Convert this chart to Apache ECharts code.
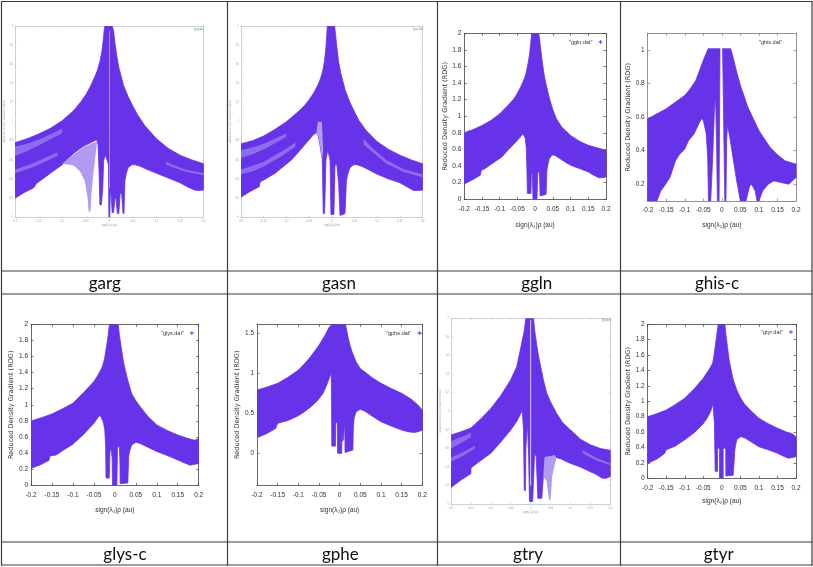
<!DOCTYPE html>
<html><head><meta charset="utf-8">
<style>html,body{margin:0;padding:0;background:#fff}#c{width:813px;height:567px}</style>
<script src="https://cdn.jsdelivr.net/npm/echarts@6/dist/echarts.min.js"></script></head>
<body><div id="c"></div>
<script>
const xTicks=[-0.2,-0.15,-0.1,-0.05,0,0.05,0.1,0.15,0.2];
const yTicks2=[0,0.2,0.4,0.6,0.8,1,1.2,1.4,1.6,1.8,2];
const yTicksHis=[0.2,0.4,0.6,0.8,1];
const yTicksPhe=[0,0.5,1,1.5];

const gargMain=[[-.2,.78],[-.175,.82],[-.15,.87],[-.125,.93],[-.1,1.01],[-.075,1.12],[-.06,1.21],[-.05,1.28],[-.04,1.37],[-.03,1.48],[-.025,1.54],[-.02,1.63],[-.016,1.73],[-.013,1.85],[-.011,1.95],[-.0095,2],[.006,2],[.009,1.95],[.012,1.82],[.016,1.68],[.02,1.57],[.03,1.38],[.04,1.26],[.05,1.16],[.06,1.07],[.075,.96],[.1,.82],[.125,.72],[.15,.65],[.175,.6],[.2,.56],[.2,.285],[.19,.28],[.18,.285],[.165,.32],[.15,.36],[.125,.41],[.1,.46],[.08,.5],[.065,.535],[.055,.55],[.048,.55],[.04,.52],[.036,.46],[.033,.38],[.031,.04],[.029,.04],[.026,.25],[.023,.25],[.02,.04],[.017,.04],[.014,.2],[.012,.2],[.009,.05],[.006,.05],[.004,.2],[.002,.3],[.001,0],[-.001,0],[-.002,.55],[-.008,.65],[-.012,.6],[-.014,.3],[-.017,.13],[-.02,.13],[-.022,.5],[-.024,.76],[-.027,.81],[-.04,.78],[-.056,.74],[-.075,.67],[-.091,.6],[-.1,.55],[-.125,.46],[-.15,.37],[-.155,.35],[-.16,.31],[-.18,.26],[-.2,.2]];
const gargLight=[[[-.1,.56],[-.085,.55],[-.075,.54],[-.062,.48],[-.052,.38],[-.046,.2],[-.044,.06],[-.04,.06],[-.038,.25],[-.034,.45],[-.026,.79],[-.04,.77],[-.056,.73],[-.09,.6]]];
const gargStreak=[[[-.2,.74],[-.175,.77],[-.15,.81],[-.12,.88],[-.1,.93],[-.1,.88],[-.12,.83],[-.15,.75],[-.175,.69],[-.2,.64]],[[-.2,.5],[-.175,.54],[-.15,.59],[-.11,.68],[-.11,.64],[-.15,.55],[-.175,.5],[-.2,.46]],[[.12,.58],[.16,.5],[.2,.46],[.2,.44],[.16,.48],[.12,.55]]];
const gargHair=[[-.0006,1.95],[.0006,1.95],[.0006,.3],[-.0006,.3]];

const gasnMain=[[-.2,.77],[-.175,.8],[-.15,.85],[-.125,.92],[-.1,1],[-.075,1.1],[-.06,1.17],[-.05,1.23],[-.04,1.3],[-.03,1.39],[-.025,1.45],[-.02,1.53],[-.016,1.64],[-.013,1.78],[-.011,1.92],[-.01,2],[.006,2],[.008,1.92],[.011,1.78],[.015,1.62],[.02,1.5],[.03,1.32],[.04,1.2],[.05,1.1],[.06,1.01],[.075,.91],[.1,.79],[.125,.71],[.15,.65],[.175,.6],[.2,.56],[.2,.285],[.19,.28],[.18,.28],[.165,.32],[.15,.36],[.125,.4],[.1,.45],[.08,.5],[.065,.535],[.055,.55],[.048,.55],[.04,.52],[.035,.45],[.032,.38],[.029,.04],[.018,.02],[.015,.35],[.011,.55],[.007,.55],[.0045,.03],[-.002,.03],[-.004,.6],[-.009,.7],[-.013,.6],[-.016,.04],[-.019,.04],[-.021,.6],[-.026,.75],[-.03,.85],[-.034,.885],[-.04,.865],[-.052,.8],[-.07,.7],[-.089,.6],[-.125,.46],[-.15,.39],[-.158,.37],[-.16,.32],[-.18,.27],[-.2,.21]];
const gasnLight=[[[-.034,.885],[-.031,1],[-.022,1],[-.019,.7],[-.021,.6],[-.026,.75],[-.03,.85]]];
const gasnStreak=[[[-.2,.7],[-.175,.73],[-.15,.77],[-.1,.88],[-.1,.84],[-.15,.71],[-.175,.66],[-.2,.62]],[[-.2,.5],[-.175,.54],[-.15,.58],[-.11,.69],[-.08,.78],[-.08,.74],[-.11,.64],[-.15,.53],[-.175,.48],[-.2,.45]],[[.07,.82],[.09,.72],[.12,.6],[.16,.5],[.2,.45],[.2,.42],[.16,.47],[.12,.56],[.09,.68],[.07,.76]]];

const gglnMain=[[-.2,.8],[-.19,.82],[-.175,.84],[-.15,.89],[-.125,.95],[-.1,1.03],[-.075,1.14],[-.06,1.21],[-.05,1.28],[-.04,1.36],[-.03,1.46],[-.025,1.53],[-.02,1.64],[-.016,1.74],[-.013,1.86],[-.011,1.95],[-.01,2],[.01,2],[.012,1.95],[.015,1.84],[.02,1.66],[.025,1.51],[.03,1.4],[.04,1.22],[.05,1.08],[.06,.97],[.075,.87],[.1,.77],[.125,.7],[.15,.65],[.175,.62],[.2,.59],[.2,.27],[.19,.26],[.18,.26],[.165,.29],[.15,.33],[.125,.37],[.1,.41],[.08,.46],[.065,.505],[.055,.53],[.048,.535],[.04,.49],[.036,.42],[.033,.34],[.031,.06],[.014,.04],[.012,.33],[.0075,.33],[.005,0],[-.006,0],[-.008,.31],[-.0105,.31],[-.012,.07],[-.022,.07],[-.023,.31],[-.025,.62],[-.028,.74],[-.035,.79],[-.04,.76],[-.05,.71],[-.075,.6],[-.094,.51],[-.125,.42],[-.141,.37],[-.152,.35],[-.155,.29],[-.175,.24],[-.2,.185]];

const ghisMain=[[-.2,.59],[-.175,.62],[-.15,.65],[-.125,.69],[-.1,.73],[-.085,.77],[-.07,.82],[-.06,.88],[-.05,.94],[-.037,1.008],[-.005,1.008],[-.0075,.1],[-.012,.1],[-.014,.4],[-.016,.64],[-.018,.72],[-.02,.64],[-.024,.4],[-.03,.1],[-.036,.1],[-.038,.35],[-.042,.5],[-.047,.55],[-.05,.58],[-.055,.59],[-.06,.57],[-.075,.5],[-.09,.46],[-.1,.41],[-.115,.376],[-.125,.34],[-.14,.24],[-.155,.19],[-.165,.16],[-.175,.1],[-.2,.1]];
const ghisRight=[[.002,1.008],[.024,1.008],[.03,.96],[.04,.87],[.05,.79],[.07,.66],[.085,.59],[.1,.52],[.115,.47],[.13,.42],[.15,.376],[.17,.34],[.185,.33],[.2,.32],[.2,.24],[.18,.2],[.16,.21],[.14,.22],[.125,.2],[.11,.16],[.1,.1],[.095,.1],[.09,.16],[.08,.2],[.075,.19],[.065,.1],[.05,.1],[.04,.22],[.03,.36],[.02,.5],[.015,.55],[.013,.46],[.011,.1],[.008,.1]];

const glysMain=[[-.2,.8],[-.175,.84],[-.15,.886],[-.125,.95],[-.1,1.02],[-.075,1.15],[-.05,1.29],[-.04,1.37],[-.03,1.47],[-.025,1.56],[-.02,1.72],[-.016,1.86],[-.013,2],[.008,2],[.011,1.86],[.015,1.72],[.02,1.55],[.025,1.43],[.03,1.32],[.04,1.14],[.05,1.05],[.06,.98],[.08,.85],[.1,.75],[.125,.68],[.15,.625],[.175,.58],[.19,.56],[.2,.58],[.2,.27],[.19,.26],[.18,.25],[.165,.28],[.15,.315],[.125,.37],[.1,.42],[.08,.47],[.06,.52],[.05,.534],[.04,.5],[.035,.42],[.033,.36],[.031,.03],[.0127,.02],[.012,.31],[.0105,.48],[.0065,.48],[.0048,0],[-.0056,0],[-.0065,.35],[-.009,.44],[-.0115,.44],[-.0135,.09],[-.021,.09],[-.022,.48],[-.024,.69],[-.028,.79],[-.035,.87],[-.04,.845],[-.05,.77],[-.075,.63],[-.1,.51],[-.125,.43],[-.14,.377],[-.155,.364],[-.157,.31],[-.175,.26],[-.2,.21]];

const gpheMain=[[-.2,.79],[-.175,.83],[-.15,.875],[-.125,.95],[-.1,1.04],[-.085,1.12],[-.07,1.21],[-.05,1.35],[-.035,1.48],[-.025,1.58],[-.018,1.6125],[.014,1.6125],[.017,1.54],[.02,1.46],[.025,1.35],[.03,1.27],[.04,1.14],[.05,1.06],[.065,1],[.08,.94],[.1,.875],[.125,.81],[.15,.75],[.175,.67],[.19,.6],[.2,.54],[.2,.29],[.19,.27],[.18,.26],[.165,.27],[.15,.29],[.125,.34],[.1,.395],[.08,.46],[.06,.53],[.05,.55],[.04,.52],[.035,.44],[.033,.3],[.032,.04],[.013,.01],[.0125,.375],[.011,.29],[.009,.17],[.007,.15],[.0055,.29],[.005,0],[-.005,0],[-.0055,.375],[-.0095,.39],[-.01,.09],[-.019,.09],[-.0195,.58],[-.0205,1],[-.025,.94],[-.03,.87],[-.04,.75],[-.055,.65],[-.07,.58],[-.085,.52],[-.1,.47],[-.125,.41],[-.15,.375],[-.155,.31],[-.175,.25],[-.2,.195]];

const gtryMain=[[-.2,.745],[-.175,.78],[-.15,.82],[-.125,.92],[-.1,1.03],[-.075,1.17],[-.05,1.34],[-.035,1.48],[-.025,1.68],[-.016,1.87],[-.012,2],[.007,2],[.011,1.84],[.015,1.72],[.02,1.59],[.032,1.34],[.04,1.2],[.05,1.1],[.065,.98],[.08,.88],[.1,.8],[.125,.7],[.15,.64],[.175,.6],[.2,.58],[.2,.3],[.19,.28],[.18,.28],[.165,.32],[.15,.35],[.125,.4],[.1,.44],[.075,.49],[.05,.52],[.035,.51],[.032,.3],[.028,.065],[.018,.065],[.014,.51],[.01,.55],[.005,.03],[-.003,.03],[-.005,.51],[-.008,.87],[-.012,.6],[-.013,.15],[-.016,.15],[-.018,.8],[-.021,1.01],[-.028,.95],[-.035,.89],[-.05,.8],[-.075,.67],[-.1,.55],[-.135,.44],[-.15,.39],[-.15,.33],[-.175,.26],[-.2,.18]];
const gtryLight=[[[.035,.5],[.05,.52],[.06,.53],[.065,.5],[.06,.42],[.054,.3],[.05,.05],[.046,.05],[.04,.25],[.032,.3]]];
const gtryStreak=[[[-.2,.68],[-.175,.72],[-.15,.77],[-.15,.72],[-.175,.66],[-.2,.6]],[[-.2,.5],[-.17,.56],[-.14,.63],[-.14,.6],[-.17,.52],[-.2,.46]],[[.13,.58],[.165,.5],[.2,.44],[.2,.42],[.165,.47],[.13,.55]]];
const gtryHair=[[-.0012,1.98],[.0012,1.98],[.0012,.2],[-.0012,.2]];

const gtyrMain=[[-.2,.8],[-.175,.84],[-.15,.887],[-.125,.96],[-.1,1.04],[-.075,1.16],[-.05,1.3],[-.035,1.41],[-.025,1.49],[-.022,1.57],[-.018,1.71],[-.014,1.85],[-.01,2],[.008,2],[.011,1.87],[.015,1.71],[.02,1.53],[.025,1.41],[.03,1.29],[.04,1.15],[.05,1.05],[.06,.97],[.08,.87],[.1,.78],[.125,.71],[.15,.65],[.175,.6],[.19,.58],[.2,.54],[.2,.28],[.19,.27],[.18,.26],[.165,.29],[.15,.325],[.125,.37],[.1,.41],[.08,.47],[.06,.53],[.05,.54],[.04,.5],[.035,.37],[.0306,.04],[.0108,.03],[.0105,.39],[.0075,.39],[.0036,.39],[.0036,0],[-.0063,0],[-.0063,.37],[-.007,.39],[-.0115,.39],[-.0117,.09],[-.018,.09],[-.02,.71],[-.024,.97],[-.03,.87],[-.04,.78],[-.05,.71],[-.075,.59],[-.1,.5],[-.125,.42],[-.15,.37],[-.155,.32],[-.175,.25],[-.2,.195]];

const PURPLE='#6633E8', LIGHT='#B09AF2', STREAK='#8D6CEE', HAIR='#DDD2FA';
const labelFont='"Liberation Sans",sans-serif';

const panels=[
 {label:'garg',cx:104.7,ly:284,box:[15,203.7,26,217.3],y:[0,2],ticks:yTicks2,polys:[gargMain],light:gargLight,streak:gargStreak,hair:gargHair,tiny:true,leg:'"garg.dat"',legPos:[193,27.5]},
 {label:'gasn',cx:339,ly:284,box:[241,422.7,26,217.3],y:[0,2],ticks:yTicks2,polys:[gasnMain],light:gasnLight,streak:gasnStreak,tiny:true,leg:'"gasn.dat"',legPos:[412,27.5]},
 {label:'ggln',cx:536.7,ly:284,box:[464.3,606,33.3,199.3],y:[0,2],ticks:yTicks2,polys:[gglnMain],leg:'"ggln.dat"',legPos:[569,39],yGap:8,xGap:22.3},
 {label:'ghis-c',cx:717,ly:284,box:[647.7,796,33.3,201],y:[0.1,1.1],ticks:yTicksHis,polys:[ghisMain,ghisRight],leg:'"ghis.dat"',legPos:[759,39],noMark:true,yGap:9,xGap:20.6,grey:true},
 {label:'glys-c',cx:125,ly:555,box:[31,198.7,324.3,485.3],y:[0,2],ticks:yTicks2,polys:[glysMain],leg:'"glys.dat"',legPos:[161,330],yGap:11,xGap:21},
 {label:'gphe',cx:340.3,ly:555,box:[257,422.3,324.3,485.3],y:[-0.4,1.6125],ticks:yTicksPhe,polys:[gpheMain],leg:'"gphe.dat"',legPos:[386,330],yGap:11,xGap:21},
 {label:'gtry',cx:528,ly:555,box:[451,610.3,318.3,504.3],y:[0,2],ticks:yTicks2,polys:[gtryMain],light:gtryLight,streak:gtryStreak,hair:gtryHair,tiny:true,leg:'"gtry.dat"',legPos:[601,318.5]},
 {label:'gtyr',cx:718.7,ly:555,box:[647.7,796,324.3,478.3],y:[0,2],ticks:yTicks2,polys:[gtyrMain],leg:'"gtyr.dat"',legPos:[761,329],yGap:9,xGap:19.7}
];
const W=813,H=567;
const grid=[],xAxis=[],yAxis=[],series=[],legend=[],title=[];

function polySeries(poly,i,color,stroke,name){
  return {type:'custom',name:name,coordinateSystem:'cartesian2d',xAxisIndex:i*2,yAxisIndex:i*2,
    clip:true,silent:true,data:poly,encode:{x:0,y:1},itemStyle:{color:color},
    renderItem:function(params,api){
      if(params.dataIndex!==0) return null;
      return {type:'polygon',shape:{points:poly.map(function(p){return api.coord(p);})},
        style:{fill:color,stroke:stroke?color:null,lineWidth:stroke?0.8:0}};
    }};
}
panels.forEach(function(p,i){
  const b=p.box;
  grid.push({left:b[0],top:b[2],width:b[1]-b[0],height:b[3]-b[2],containLabel:false});
  const axisColor=p.tiny?'#B7C9CE':(p.grey?'#777777':'#444444');
  const tickLen=p.tiny?1.5:2.5;
  const lblColor=p.tiny?'#8FA3A8':'#333333';
  const lblSize=p.tiny?2.6:6.5;
  const line={show:true,onZero:false,lineStyle:{color:axisColor,width:0.8}};
  const xt={show:true,inside:true,length:tickLen,customValues:xTicks,lineStyle:{color:axisColor,width:0.7}};
  const yt={show:true,inside:true,length:tickLen,customValues:p.ticks,lineStyle:{color:axisColor,width:0.7}};
  const xBase={type:'value',gridIndex:i,min:-0.2,max:0.2,axisLine:line,axisTick:xt,splitLine:{show:false}};
  const yBase={type:'value',gridIndex:i,min:p.y[0],max:p.y[1],axisLine:line,axisTick:yt,splitLine:{show:false}};
  xAxis.push(Object.assign({},xBase,{position:'bottom',
    name:'sign(λ₂)ρ (au)',nameLocation:'middle',nameGap:p.tiny?5:p.xGap,
    nameTextStyle:{fontFamily:labelFont,fontSize:p.tiny?2.6:6.5,color:lblColor},
    axisLabel:{show:true,customValues:xTicks,margin:p.tiny?2.5:6,fontFamily:labelFont,fontSize:lblSize,color:lblColor,formatter:function(v){return String(+v.toFixed(2));},hideOverlap:false}}));
  xAxis.push(Object.assign({},xBase,{position:'top',axisLabel:{show:false}}));
  yAxis.push(Object.assign({},yBase,{position:'left',
    name:'Reduced Density Gradient (RDG)',nameLocation:'middle',nameRotate:90,nameGap:p.tiny?5:p.yGap,
    nameTextStyle:{fontFamily:'"DejaVu Sans",sans-serif',fontSize:p.tiny?2.6:6.6,color:lblColor},
    axisLabel:{show:true,customValues:p.ticks,margin:p.tiny?2:3,fontFamily:labelFont,fontSize:lblSize,color:lblColor,formatter:function(v){return String(+v.toFixed(2));},hideOverlap:false}}));
  yAxis.push(Object.assign({},yBase,{position:'right',axisLabel:{show:false}}));
  p.polys.forEach(function(poly,k){series.push(polySeries(poly,i,PURPLE,true,k===0?p.leg:undefined));});
  (p.streak||[]).forEach(function(poly){series.push(polySeries(poly,i,STREAK,false));});
  (p.light||[]).forEach(function(poly){series.push(polySeries(poly,i,LIGHT,false));});
  if(p.hair) series.push(polySeries(p.hair,i,HAIR,false));
  const hideMark=p.tiny||p.noMark;
  legend.push({show:true,data:[p.leg],left:p.legPos[0],top:p.legPos[1],orient:'horizontal',align:'right',padding:0,
    itemWidth:hideMark?0:4,itemHeight:hideMark?0:4,itemGap:0,selectedMode:false,
    icon:'path://M2 0H3V2H5V3H3V5H2V3H0V2H2Z',
    textStyle:{fontFamily:labelFont,fontSize:p.tiny?2.6:5.5,color:p.tiny?'#6E8A90':'#333333',padding:[0,1,0,0]}});
  title.push({text:p.label,left:p.cx,top:p.ly,textAlign:'center',textVerticalAlign:'middle',padding:0,
    textStyle:{fontFamily:'Lato,"Open Sans",sans-serif',fontWeight:'normal',fontSize:17,color:'#111111'}});
});
const vLines=[1.5,227.5,437.5,620.5,812];
const hLines=[1.5,271,294,542,565];
const graphic=[];
vLines.forEach(function(x){graphic.push({type:'line',silent:true,z:100,shape:{x1:x,y1:1,x2:x,y2:565.5},style:{stroke:'#3C3C3C',lineWidth:1.2}});});
hLines.forEach(function(y){graphic.push({type:'line',silent:true,z:100,shape:{x1:1,y1:y,x2:812.5,y2:y},style:{stroke:'#3C3C3C',lineWidth:1.2}});});

const chart=echarts.init(document.getElementById('c'),null,{renderer:'canvas',width:W,height:H});
chart.setOption({animation:false,backgroundColor:'#ffffff',tooltip:{show:false},grid:grid,xAxis:xAxis,yAxis:yAxis,series:series,legend:legend,title:title,graphic:graphic});
</script></body></html>
